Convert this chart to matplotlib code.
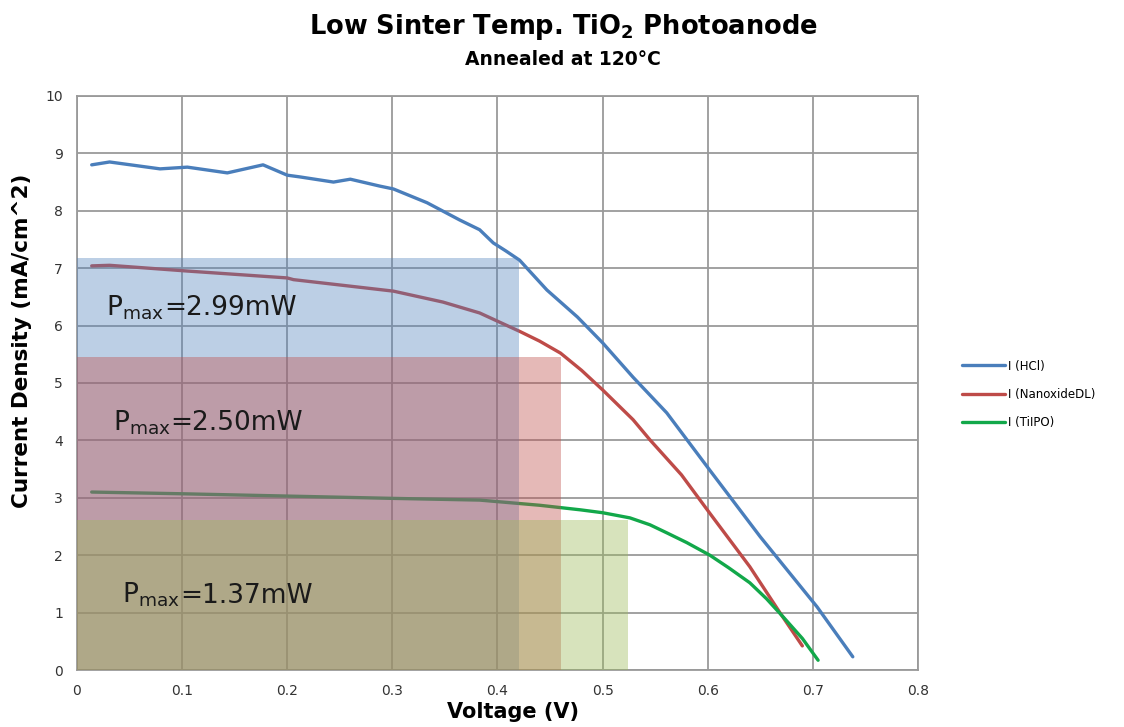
import matplotlib
matplotlib.use("Agg")
import matplotlib.pyplot as plt
import matplotlib.patches as mpatches

# ---------------------------------------------------------------------------
# Data
# ---------------------------------------------------------------------------
v_hcl = [0.014, 0.031, 0.079, 0.105, 0.143, 0.177, 0.200, 0.212, 0.244, 0.260,
         0.288, 0.301, 0.333, 0.364, 0.383, 0.396, 0.408, 0.421, 0.447, 0.476,
         0.500, 0.529, 0.561, 0.602, 0.650, 0.704, 0.738]
i_hcl = [8.80, 8.85, 8.73, 8.76, 8.66, 8.80, 8.62, 8.59, 8.50, 8.55,
         8.43, 8.38, 8.14, 7.84, 7.67, 7.44, 7.30, 7.14, 6.62, 6.15,
         5.70, 5.10, 4.48, 3.48, 2.32, 1.10, 0.23]

v_ndl = [0.014, 0.031, 0.105, 0.200, 0.206, 0.301, 0.348, 0.383, 0.402, 0.421,
         0.440, 0.460, 0.480, 0.500, 0.529, 0.545, 0.575, 0.602, 0.640, 0.669,
         0.690]
i_ndl = [7.04, 7.05, 6.95, 6.83, 6.80, 6.60, 6.41, 6.22, 6.06, 5.90,
         5.73, 5.52, 5.22, 4.88, 4.36, 4.01, 3.40, 2.73, 1.80, 0.99,
         0.42]

v_tiipo = [0.014, 0.100, 0.200, 0.300, 0.383, 0.440, 0.479, 0.500, 0.526, 0.545,
           0.561, 0.580, 0.602, 0.620, 0.640, 0.656, 0.672, 0.690, 0.705]
i_tiipo = [3.10, 3.07, 3.03, 2.99, 2.96, 2.87, 2.79, 2.74, 2.65, 2.53,
           2.39, 2.22, 2.00, 1.78, 1.52, 1.24, 0.92, 0.55, 0.17]

series_labels = ["I (HCl)", "I (NanoxideDL)", "I (TiIPO)"]

# max power rectangles: (V_mp, I_mp) and annotation text
vmp = [0.420, 0.460, 0.524]
imp = [7.18, 5.45, 2.61]
pmax_text = ["=2.99mW", "=2.50mW", "=1.37mW"]
text_pos = [(0.028, 6.18), (0.034, 4.18), (0.043, 1.17)]   # baseline of "P"

LINE_COLOURS = ["#4a7ebb", "#be4b48", "#12a84a"]
RECT_COLOURS = ["#4f81bd", "#c0504d", "#9bbb59"]
RECT_ALPHA = [0.38, 0.40, 0.40]

fig = plt.figure(figsize=(11.24, 7.27), dpi=100)
ax = fig.add_axes([0.0685, 0.0784, 0.7482, 0.7896])

ax.set_axisbelow(True)
ax.grid(True, color="#9a9a9a", linewidth=1.3)

for v, i, c, lab in zip([v_hcl, v_ndl, v_tiipo], [i_hcl, i_ndl, i_tiipo],
                        LINE_COLOURS, series_labels):
    ax.plot(v, i, color=c, linewidth=2.4, label=lab, zorder=3,
            solid_joinstyle="round", solid_capstyle="round")

for vm, im, c, a in zip(vmp, imp, RECT_COLOURS, RECT_ALPHA):
    ax.add_patch(mpatches.Rectangle((0, 0), vm, im, facecolor=c, alpha=a,
                                    edgecolor="none", zorder=4))

# P_max labels: subscript part via mathtext, the rest as plain text after it
for (tx, ty), t in zip(text_pos, pmax_text):
    t1 = ax.text(tx, ty, r"P$_{\mathregular{max}}$", fontsize=19,
                 va="baseline", ha="left", color="#1a1a1a", zorder=5)
    ax.annotate(t, xy=(1, ty), xycoords=(t1, "data"), fontsize=19,
                va="baseline", ha="left", color="#1a1a1a", zorder=5)

ax.set_xlim(0, 0.8)
ax.set_ylim(0, 10)
ax.set_xticks([0, 0.1, 0.2, 0.3, 0.4, 0.5, 0.6, 0.7, 0.8])
ax.set_xticklabels(["0", "0.1", "0.2", "0.3", "0.4", "0.5", "0.6", "0.7", "0.8"])
ax.set_yticks(range(0, 11))
ax.tick_params(length=0, labelsize=10, colors="#333333", pad=10)
for s in ax.spines.values():
    s.set_color("#9a9a9a")
    s.set_linewidth(1.3)

ax.set_xlabel("Voltage (V)", fontsize=15, fontweight="bold")
ax.xaxis.set_label_coords(0.518, -0.056)
ax.set_ylabel("Current Density (mA/cm^2)", fontsize=15.5, fontweight="bold")
ax.yaxis.set_label_coords(-0.054, 0.573)

fig.text(0.501, 0.963, r"Low Sinter Temp. TiO$_\mathbf{2}$ Photoanode",
         ha="center", va="center", fontsize=18.5, fontweight="bold")
fig.text(0.501, 0.918, "Annealed at 120°C", ha="center", va="center",
         fontsize=13.5, fontweight="bold")

ax.legend(loc="center left", bbox_to_anchor=(1.04, 0.48), frameon=False,
          fontsize=8.5, handlelength=3.6, handletextpad=0.25, labelspacing=1.3)

fig.savefig("out.png", dpi=100)
